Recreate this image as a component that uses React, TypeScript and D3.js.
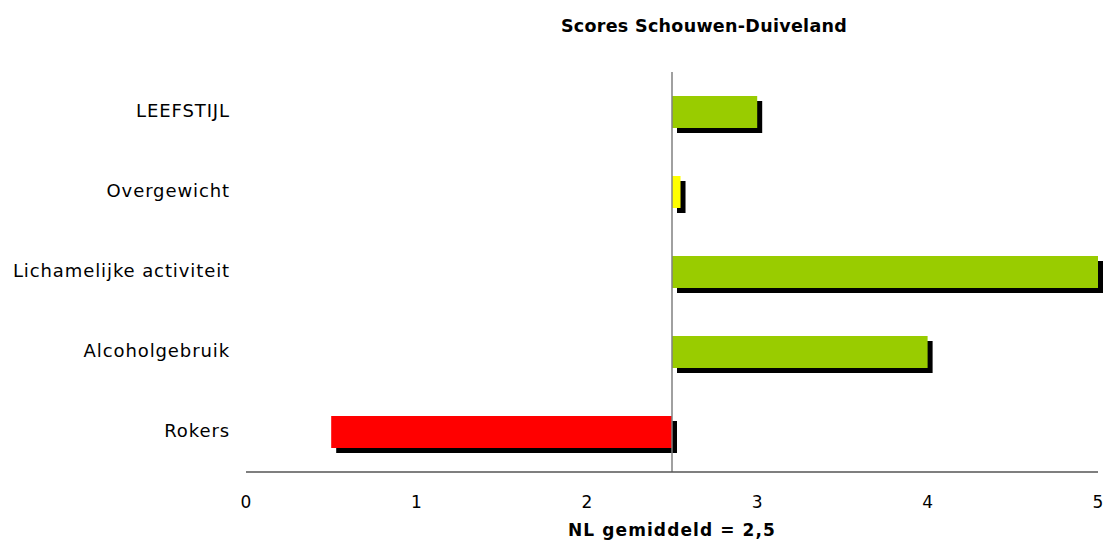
import * as d3 from 'd3';

const categories = ['LEEFSTIJL', 'Overgewicht', 'Lichamelijke activiteit', 'Alcoholgebruik', 'Rokers'];
const scores = [3.0, 2.55, 5.0, 4.0, 0.5];
const barColors = ['#99CC00', '#FFFF00', '#99CC00', '#99CC00', '#FF0000'];
const xTicks = [0, 1, 2, 3, 4, 5];
const nlAverage = 2.5;

export default function App() {
  const width = 1105;
  const height = 547;
  const left = 246;
  const right = 1098;
  const top = 72;
  const bottom = 472;

  const x = d3.scaleLinear().domain([0, 5]).range([left, right]);
  const y = d3.scaleBand<string>()
    .domain(categories)
    .range([top, bottom])
    .paddingInner(0.6)
    .paddingOuter(0.3);

  const font = '"DejaVu Sans", Verdana, sans-serif';
  const shadow = 5;

  return (
    <div style={{ position: 'absolute', left: 0, top: 0 }}>
      <svg width={width} height={height} style={{ display: 'block', background: '#fff' }}>
        <text x={704} y={32} textAnchor="middle" fontFamily={font} fontSize={17.5} fontWeight="bold" letterSpacing={0.3}>
          Scores Schouwen-Duiveland
        </text>

        {/* shadows first, then bars */}
        {categories.map((c, i) => {
          const x0 = x(Math.min(scores[i], nlAverage));
          const x1 = x(Math.max(scores[i], nlAverage));
          return (
            <rect key={'s' + c} x={x0 + shadow} y={(y(c) ?? 0) + shadow} width={x1 - x0} height={y.bandwidth()} fill="#000" />
          );
        })}
        {categories.map((c, i) => {
          const x0 = x(Math.min(scores[i], nlAverage));
          const x1 = x(Math.max(scores[i], nlAverage));
          return (
            <rect key={'b' + c} x={x0} y={y(c) ?? 0} width={x1 - x0} height={y.bandwidth()} fill={barColors[i]} />
          );
        })}

        {/* NL average line */}
        <line x1={x(nlAverage)} x2={x(nlAverage)} y1={top} y2={bottom} stroke="#808080" strokeWidth={1.5} />
        {/* x axis */}
        <line x1={left} x2={right} y1={bottom} y2={bottom} stroke="#555" strokeWidth={1.5} />

        {xTicks.map(t => (
          <text key={t} x={x(t)} y={508} textAnchor="middle" fontFamily={font} fontSize={17} fill="#000">
            {t}
          </text>
        ))}

        {categories.map(c => (
          <text
            key={'l' + c}
            x={230}
            y={(y(c) ?? 0) + y.bandwidth() / 2}
            textAnchor="end"
            dominantBaseline="middle"
            fontFamily={font}
            fontSize={18}
            letterSpacing={0.9}
            fill="#000"
          >
            {c}
          </text>
        ))}

        <text x={672} y={536} textAnchor="middle" fontFamily={font} fontSize={17} fontWeight="bold" letterSpacing={1.1}>
          NL gemiddeld = 2,5
        </text>
      </svg>
    </div>
  );
}
